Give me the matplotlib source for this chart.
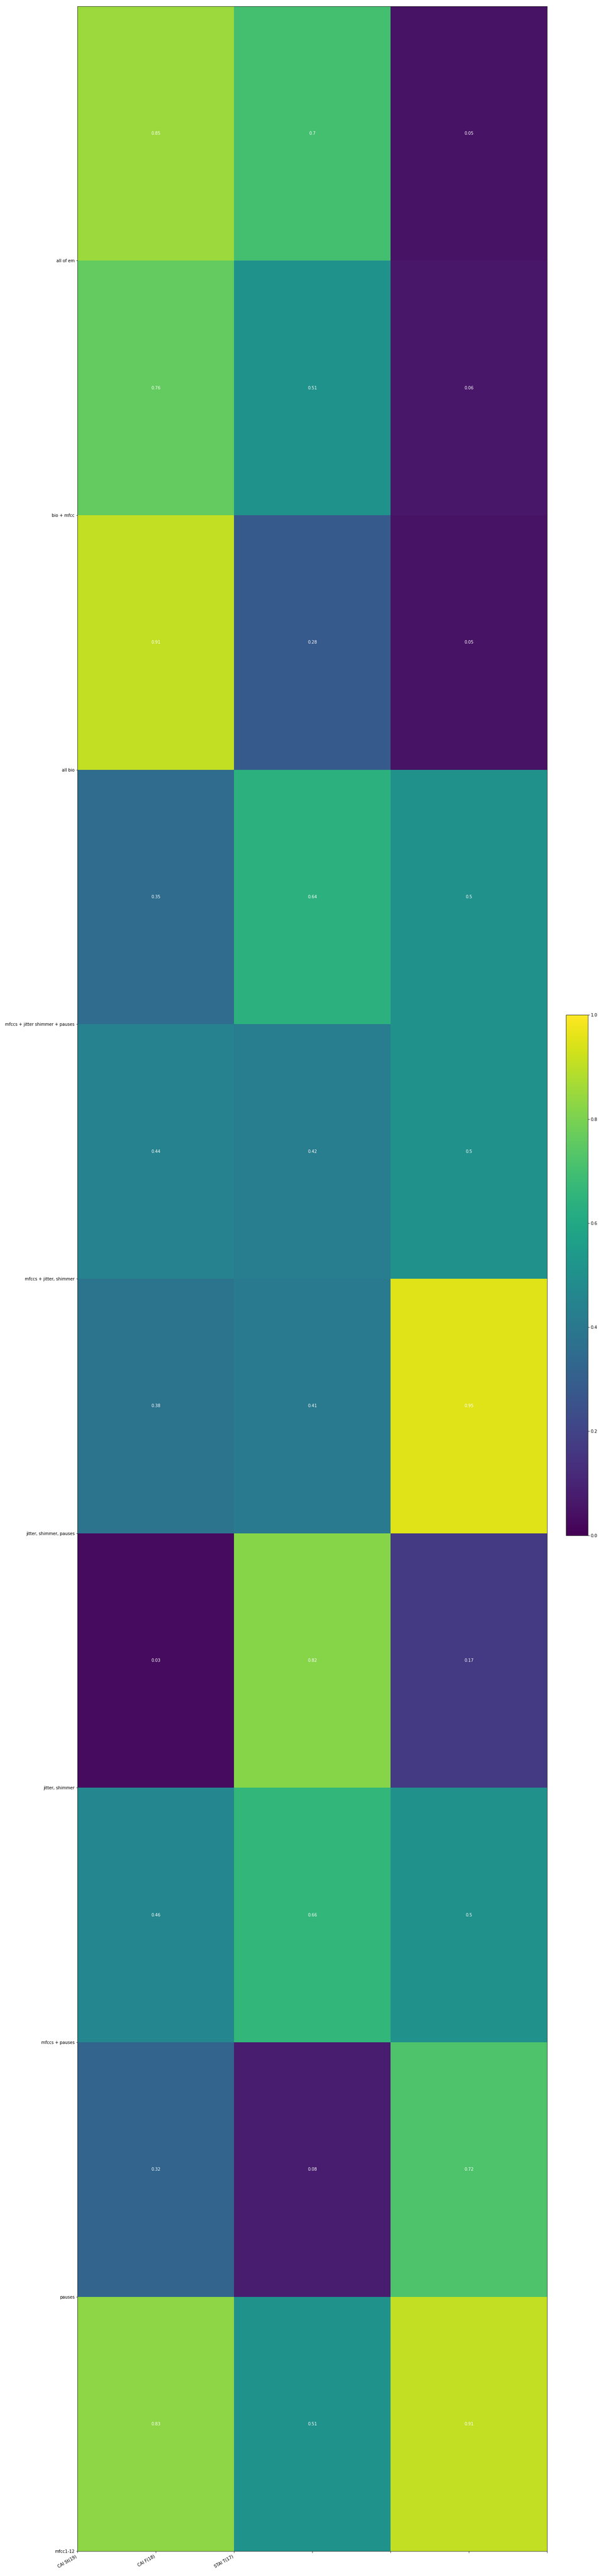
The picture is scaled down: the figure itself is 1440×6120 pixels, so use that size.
import numpy as np
import matplotlib
matplotlib.use("Agg")
import matplotlib.pyplot as plt

# Rows listed top-to-bottom as displayed
row_values = [
    [0.85, 0.70, 0.05],
    [0.76, 0.51, 0.06],
    [0.91, 0.28, 0.05],
    [0.35, 0.64, 0.50],
    [0.44, 0.42, 0.50],
    [0.38, 0.41, 0.95],
    [0.03, 0.82, 0.17],
    [0.46, 0.66, 0.50],
    [0.32, 0.08, 0.72],
    [0.83, 0.51, 0.91],
]
# Y tick labels, bottom-to-top (at row boundaries)
y_labels = [
    "mfcc1-12",
    "pauses",
    "mfccs + pauses",
    "jitter, shimmer",
    "jitter, shimmer, pauses",
    "mfccs + jitter, shimmer",
    "mfccs + jitter shimmer + pauses",
    "all bio",
    "bio + mfcc",
    "all of em",
]
x_labels = ["CAI St(19)", "CAI F(18)", "STAI T(17)"]

data = np.array(row_values)[::-1]  # bottom row first for pcolormesh

fig = plt.figure(figsize=(20, 85), dpi=72)
ax = fig.add_axes([0.128, 0.0096, 0.775, 0.988])
mesh = ax.pcolormesh(data, cmap="viridis", vmin=0, vmax=1)

for i in range(data.shape[0]):
    for j in range(data.shape[1]):
        ax.text(j + 0.5, i + 0.5, f"{data[i, j]:g}", ha="center", va="center",
                color="white", fontsize=10)

ax.set_xlim(0, data.shape[1])
ax.set_ylim(0, data.shape[0])
ax.set_yticks(np.arange(data.shape[0]), labels=y_labels)
xt = np.arange(0, data.shape[1] + 0.01, 0.5)
ax.set_xticks(xt, labels=x_labels + [""] * (len(xt) - len(x_labels)))
plt.setp(ax.get_xticklabels(), rotation=30, ha="right", rotation_mode="default")

cax = fig.add_axes([0.934, 0.404, 0.036, 0.202])
fig.colorbar(mesh, cax=cax)

fig.savefig("out.png", dpi=72)
